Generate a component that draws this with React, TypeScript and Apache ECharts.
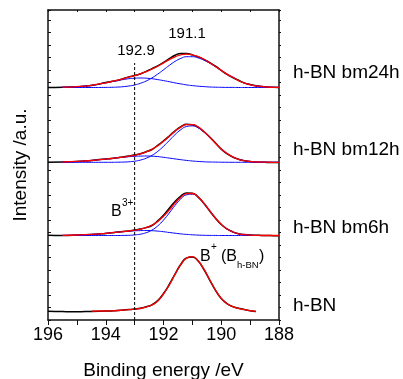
import React, { useEffect, useRef } from 'react';
import * as echarts from 'echarts';

const FONT = '"Liberation Sans", Arial, sans-serif';

// Binding energy sample positions (eV)
const X = [196, 195.5, 195, 194.5, 194.0, 193.8, 193.6, 193.4, 193.2, 193.0, 192.8, 192.6, 192.4, 192.2, 192.0, 191.8, 191.6, 191.4, 191.2, 191.0, 190.8, 190.6, 190.4, 190.2, 190.0, 189.8, 189.6, 189.4, 189.2, 189.0, 188.8, 188.6, 188.4, 188.2, 188.0];

// vertical offsets of the stacked spectra (a.u.)
const OFFSETS = [8.5, 84.5, 157.7, 232.5];
const LABELS = ['h-BN', 'h-BN bm6h', 'h-BN bm12h', 'h-BN bm24h'];

// h-BN
const hbnData = [0.3, -0.1, -0.3, 0.1, 0.4, 0.6, 0.9, 1.5, 1.9, 2.5, 3.2, 4.7, 6.7, 10.9, 18.0, 27.0, 37.5, 47.2, 53.6, 54.6, 50.4, 42.0, 31.4, 21.2, 13.0, 7.9, 4.9, 3.3, 1.9, 0.8, 0.1, null, null, null, null];
const hbnFit = [null, null, null, 0.3, 0.5, 0.7, 1.0, 1.4, 1.8, 2.3, 3.0, 4.5, 6.5, 10.5, 17.5, 26.5, 37.1, 46.9, 53.4, 54.8, 50.7, 42.3, 31.8, 21.5, 13.1, 7.8, 4.8, 3.2, 1.8, 0.9, 0.2, null, null, null, null];

// h-BN bm6h
const bm6Data = [0.3, 0.1, 0.4, 1.0, 2.1, 2.7, 3.4, 4.0, 4.6, 5.5, 6.4, 7.9, 10.0, 14.6, 20.3, 27.2, 34.0, 39.4, 42.5, 42.3, 38.4, 32.0, 24.5, 17.3, 11.0, 6.6, 3.6, 1.8, 0.9, 0.4, 0.2, 0.1, 0, -0.2, -0.3];
const bm6Fit = [null, 0.15, 0.5, 1.1, 2.2, 2.8, 3.3, 3.9, 4.5, 5.3, 6.2, 7.8, 10.2, 14.0, 19.2, 25.5, 32.4, 38.2, 41.8, 42.0, 38.6, 32.4, 24.9, 17.5, 11.2, 6.5, 3.5, 1.7, 0.8, 0.3, 0.1, 0, 0, 0, 0];
const bm6Main = [null, 0, 0, 0, 0, 0, 0, 0.1, 0.2, 0.6, 1.3, 2.8, 5.4, 9.6, 15.4, 22.5, 30.1, 36.6, 40.7, 41.3, 38.2, 32.2, 24.8, 17.4, 11.2, 6.5, 3.5, 1.7, 0.8, 0.3, 0.1, 0, 0, 0, 0];
const bm6B3 = [null, 0.15, 0.46, 1.1, 2.2, 2.8, 3.3, 3.8, 4.3, 4.7, 4.9, 5.0, 4.8, 4.4, 3.8, 3.0, 2.3, 1.6, 1.1, 0.7, 0.4, 0.2, 0.1, 0.05, 0, 0, 0, 0, 0, 0, 0, 0, 0, 0, 0];

// h-BN bm12h
const bm12Data = [0, 0.4, 0.8, 1.9, 3.4, 3.9, 4.5, 5.4, 6.3, 7.3, 8.6, 10.5, 12.8, 16.9, 21.4, 26.3, 31.5, 35.6, 38.0, 37.6, 35.0, 30.5, 25.3, 19.4, 13.2, 8.6, 5.2, 3.1, 1.5, 0.8, 0.3, 0.1, -0.1, -0.2, -0.2];
const bm12Fit = [null, 0.3, 0.9, 1.8, 3.2, 3.8, 4.6, 5.2, 6.1, 7.1, 8.4, 10.4, 13.0, 16.6, 21.0, 26.0, 31.1, 35.2, 37.7, 37.7, 35.4, 30.8, 25.1, 19.1, 13.4, 8.9, 5.4, 3.0, 1.6, 0.8, 0.4, 0.15, 0.1, 0, 0];
const bm12Main = [null, 0, 0, 0, 0, 0, 0.1, 0.2, 0.5, 1.1, 2.2, 4.1, 6.9, 10.9, 16.0, 21.8, 27.7, 32.6, 35.8, 36.4, 34.5, 30.3, 24.8, 18.9, 13.3, 8.8, 5.4, 3.0, 1.6, 0.8, 0.4, 0.15, 0.1, 0, 0];
const bm12B3 = [null, 0.34, 0.85, 1.8, 3.2, 3.8, 4.5, 5.0, 5.6, 6.0, 6.2, 6.3, 6.1, 5.7, 5.0, 4.2, 3.4, 2.6, 1.9, 1.3, 0.85, 0.5, 0.3, 0.2, 0.1, 0.05, 0, 0, 0, 0, 0, 0, 0, 0, 0];

// h-BN bm24h
const bm24Data = [0, 0.2, 0.8, 2.0, 4.9, 6.1, 7.0, 8.9, 10.6, 12.0, 13.5, 16.1, 18.9, 21.6, 25.0, 28.8, 32.2, 34.1, 34.0, 32.6, 30.6, 28.0, 24.9, 21.3, 17.0, 13.1, 10.0, 7.2, 4.6, 3.0, 1.8, 1.1, 0.6, 0.3, 0.1];
const bm24Fit = [null, 0.3, 0.9, 2.2, 4.7, 6.0, 7.3, 8.7, 10.3, 11.8, 13.7, 15.8, 18.4, 21.3, 24.6, 27.9, 30.7, 32.7, 33.4, 32.7, 30.9, 28.3, 24.8, 21.0, 17.1, 13.4, 10.2, 6.9, 4.3, 2.8, 1.6, 1.0, 0.5, 0.2, 0.1];
const bm24Main = [null, 0, 0, 0, 0.1, 0.2, 0.4, 0.8, 1.5, 2.5, 4.2, 6.5, 9.6, 13.4, 17.7, 22.1, 26.1, 29.1, 30.8, 30.8, 29.6, 27.4, 24.3, 20.7, 16.9, 13.3, 10.1, 6.9, 4.3, 2.8, 1.6, 1.0, 0.5, 0.2, 0.1];
const bm24B3 = [null, 0.3, 0.9, 2.2, 4.6, 5.8, 6.9, 7.9, 8.8, 9.3, 9.5, 9.3, 8.8, 7.9, 6.9, 5.8, 4.6, 3.6, 2.6, 1.9, 1.3, 0.9, 0.5, 0.3, 0.2, 0.1, 0.1, 0, 0, 0, 0, 0, 0, 0, 0];

// reference line at B3+ position
const REF_X = 193;
const REF_TOP = 257;

const X_TICKS = [196, 194, 192, 190, 188];

function pts(vals: (number | null)[], off: number) {
  const out: number[][] = [];
  X.forEach((x, i) => {
    const v = vals[i];
    if (v != null) out.push([x, off + v]);
  });
  return out;
}

function line(name: string, data: number[][], color: string, width: number) {
  return {
    name,
    type: 'line',
    data,
    symbol: 'none',
    smooth: 0.5,
    lineStyle: { color, width },
    silent: true,
  };
}

export default function App() {
  const ref = useRef<HTMLDivElement>(null);
  useEffect(() => {
    const chart = echarts.init(ref.current!, null, { renderer: 'svg' });
    const groups = [
      { data: hbnData, fit: hbnFit, comps: [] as (number | null)[][] },
      { data: bm6Data, fit: bm6Fit, comps: [bm6Main, bm6B3] },
      { data: bm12Data, fit: bm12Fit, comps: [bm12Main, bm12B3] },
      { data: bm24Data, fit: bm24Fit, comps: [bm24Main, bm24B3] },
    ];
    const series: any[] = [];
    groups.forEach((g, k) => {
      const off = OFFSETS[k];
      series.push(line(LABELS[k] + ' data', pts(g.data, off), '#000000', 1.5));
      g.comps.forEach((c, j) => series.push(line(LABELS[k] + ' comp' + j, pts(c, off), '#0000ff', 1)));
      series.push(line(LABELS[k] + ' fit', pts(g.fit, off), '#ff0000', 1.3));
    });
    series.push({
      name: 'ref',
      type: 'line',
      data: [[REF_X, 0], [REF_X, REF_TOP]],
      symbol: 'none',
      lineStyle: { color: '#000', width: 1, type: [3, 2] },
      silent: true,
    });

    const txt = (text: string, x: number, y: number, size: number, align = 'left') => ({
      type: 'text',
      x,
      y,
      silent: true,
      style: {
        text,
        fill: '#000',
        font: `${size}px ${FONT}`,
        textAlign: align,
        textVerticalAlign: 'middle',
        verticalAlign: 'middle',
      },
    });
    const labelY = [304, 226, 148, 71.7];

    const axisLine = { show: true, onZero: false, lineStyle: { color: '#111', width: 1.5 } };
    chart.setOption({
      animation: false,
      grid: { left: 48, top: 10, width: 231, height: 310, containLabel: false, outerBoundsMode: 'none' },
      xAxis: [
        {
          type: 'value', min: 188, max: 196, interval: 1, inverse: true, position: 'bottom',
          axisLine,
          axisTick: { show: true, inside: false, length: 5, lineStyle: { color: '#111', width: 1 } },
          axisLabel: {
            formatter: (v: number) => (X_TICKS.includes(v) ? String(v) : ''),
            margin: 5, color: '#000', fontSize: 18, fontFamily: FONT,
          },
          splitLine: { show: false },
          name: 'Binding energy /eV', nameLocation: 'middle', nameGap: 40,
          nameTextStyle: { color: '#000', fontSize: 19, fontFamily: FONT },
        },
        {
          type: 'value', min: 188, max: 196, interval: 1, inverse: true, position: 'top',
          axisLine,
          axisTick: { show: true, inside: true, length: 2, lineStyle: { color: '#111', width: 1 } },
          axisLabel: { show: false },
          splitLine: { show: false },
        },
      ],
      yAxis: [
        {
          type: 'value', min: 0, max: 310, interval: 12.5, position: 'left',
          axisLine,
          axisTick: { show: true, inside: true, length: 3, lineStyle: { color: '#111', width: 1 } },
          axisLabel: { show: false },
          splitLine: { show: false },
          name: 'Intensity /a.u.', nameLocation: 'middle', nameGap: 19,
          nameTextStyle: { color: '#000', fontSize: 19, fontFamily: FONT },
        },
        {
          type: 'value', min: 0, max: 310, interval: 12.5, position: 'right',
          axisLine,
          axisTick: { show: true, inside: false, length: 2, lineStyle: { color: '#111', width: 1 } },
          axisLabel: { show: false },
          splitLine: { show: false },
        },
      ],
      series,
      graphic: [
        ...LABELS.map((l, k) => txt(l, 293, labelY[k], 19)),
        txt('192.9', 136, 49, 15, 'center'),
        txt('191.1', 187, 32.5, 15, 'center'),
        txt('B', 111, 210, 16),
        txt('3+', 122, 202, 10),
        txt('B', 200, 255, 16),
        txt('+', 211, 246, 10),
        txt('(B', 221, 255, 16),
        txt('h-BN', 237, 264, 9.5),
        txt(')', 259, 255, 16),
      ],
    });
    return () => chart.dispose();
  }, []);
  return <div ref={ref} style={{ position: 'fixed', left: 0, top: 0, width: 403, height: 379 }} />;
}
